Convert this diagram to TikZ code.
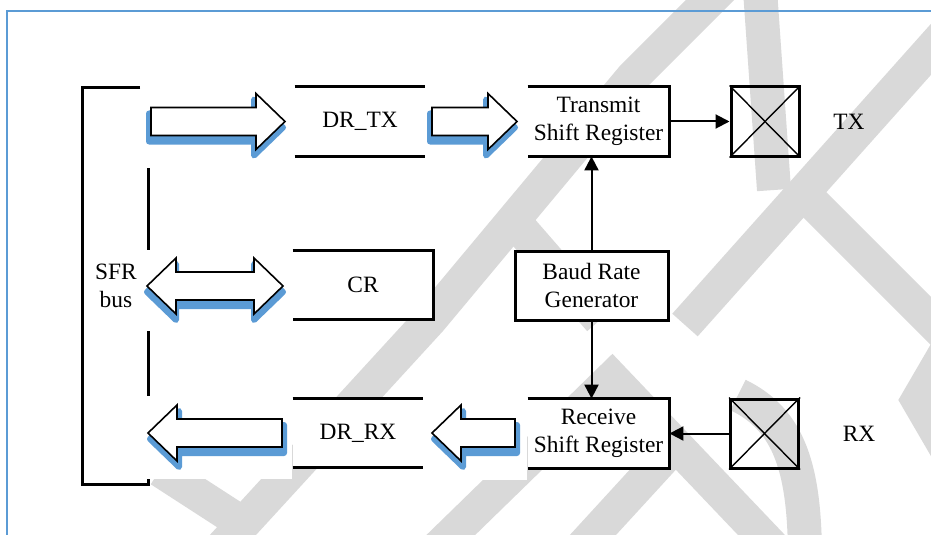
\documentclass[tikz,border=0pt]{standalone}
\usepackage{fontspec}
\setmainfont{Liberation Serif}
\usetikzlibrary{arrows.meta,positioning}

\definecolor{arrowblue}{HTML}{5B9BD5}
\definecolor{framebl}{HTML}{5B9BD5}
\definecolor{wmgray}{gray}{0.85}

\begin{document}
\begin{tikzpicture}[x=0.5pt,y=-0.5pt,
	font=\fontsize{11.7}{14}\selectfont,
	box/.style={fill=white,inner sep=0pt,align=center},
	regbox/.style={box,minimum width=70.5pt,minimum height=34.5pt},
	datbox/.style={box,minimum width=65pt,minimum height=34.5pt},
	portbox/.style={draw,line width=1.5pt,minimum width=34pt,minimum height=34.5pt,inner sep=0pt},
	side/.style={line width=1.5pt},
	link/.style={line width=1pt,-{Triangle[length=7pt,width=7pt]}},
	wm/.style={wmgray,line width=17pt},
	arrow shadow/.style={fill=arrowblue,draw=arrowblue,line width=3pt,line join=round,shift={(-2,6)}},
	arrow face/.style={fill=white,draw=black,line width=0.8pt},
	fatarrow/.pic={
		\path[arrow shadow] (0,-14) -- (#1,-14) -- (#1,-28) -- ++(29,28) -- (#1,28) -- (#1,14) -- (0,14) -- cycle;
		\path[arrow face] (0,-14) -- (#1,-14) -- (#1,-28) -- ++(29,28) -- (#1,28) -- (#1,14) -- (0,14) -- cycle;
	},
	dblarrow/.pic={
		\path[arrow shadow,shift={(2,0)}] (0,0) -- (29,-28) -- (29,-14) -- ++(#1,0) -- ++(0,-14) -- ++(29,28) -- ++(-29,28) -- ++(0,-14) -- (29,14) -- (29,28) -- cycle;
		\path[arrow face] (0,0) -- (29,-28) -- (29,-14) -- ++(#1,0) -- ++(0,-14) -- ++(29,28) -- ++(-29,28) -- ++(0,-14) -- (29,14) -- (29,28) -- cycle;
	}]
	\useasboundingbox (0,0) rectangle (931,535);
	\clip (0,0) rectangle (931,535);
	\fill[white] (0,0) rectangle (931,535);
	% watermark
		\draw[wm] (722,-12) -- (632,78) -- (430,320) -- (210,560);
		\draw[wm] (245,525) -- (160,470);
		\draw[wm] (513,220) -- (600,320);
		\draw[wm] (760,-10) -- (774,190);
		\draw[wm] (975,0) -- (685,325);
		\draw[wm] (800,190) -- (945,335);
		\draw[wm] (950,345) -- (918,400) -- (950,455);
		\draw[wm] (420,565) -- (612,378) -- (790,565);
		\draw[wm] (680,440) -- (570,560);
		\draw[wm] (738,395) .. controls (790,420) and (805,470) .. (805,560);
		\draw[framebl,line width=1pt] (7,11) rectangle (940,545);
		\fill[white] (145,394) rectangle (292,479);
		\fill[white] (425,394) rectangle (527,480);
	% boxes
		\node (drtx) at (360,121.5) [datbox] {DR\_TX};
		\node (tsr) at (598.5,121.5) [regbox] {Transmit\\Shift Register};
		\node (txport) at (765,121.5) [portbox] {};
		\node (tx) at (849,122) {TX};
		\node (cr) at (363,285) [box,minimum width=70pt,minimum height=34pt] {CR};
		\node (baud) at (591.5,285.5) [box,draw,line width=1.5pt,minimum width=76.5pt,minimum height=34.5pt] {Baud Rate\\Generator};
		\node (drrx) at (358,433) [datbox] {DR\_RX};
		\node (rsr) at (598.5,433.5) [regbox] {Receive\\Shift Register};
		\node (rxport) at (764.5,433.5) [portbox] {};
		\node (rx) at (859,434) {RX};
		\node (sfr) at (116,286) [align=center] {SFR\\bus};
	% open sides
		\draw[side] (drtx.north west) -- (drtx.north east) (drtx.south west) -- (drtx.south east);
		\draw[side] (drrx.north west) -- (drrx.north east) (drrx.south west) -- (drrx.south east);
		\draw[side] (tsr.north west) -- (tsr.north east) -- (tsr.south east) -- (tsr.south west);
		\draw[side] (rsr.north west) -- (rsr.north east) -- (rsr.south east) -- (rsr.south west);
		\draw[side] (cr.north west) -- (cr.north east) -- (cr.south east) -- (cr.south west);
		\draw[line width=0.7pt] (txport.north west) -- (txport.south east) (txport.north east) -- (txport.south west);
		\draw[line width=0.7pt] (rxport.north west) -- (rxport.south east) (rxport.north east) -- (rxport.south west);
	% bus bracket
		\draw[side] (140,88) -- (82,88) -- (82,484) -- (148,484) -- (148,479);
		\draw[side] (148,168) -- (148,250) (148,331) -- (148,396);
	% block arrows
		\pic at (151,121.5) {fatarrow=105};
		\pic at (432,121.5) {fatarrow=56};
		\pic at (147,286) {dblarrow=78};
		\pic[xscale=-1] at (282,433) {fatarrow=105};
		\pic[xscale=-1] at (515,433) {fatarrow=54};
	% links
		\draw[link] (tsr) -- (txport);
		\draw[link] (baud.north) -- (baud.north |- tsr.south);
		\draw[link] (baud.south) -- (baud.south |- rsr.north);
		\draw[link] (rxport) -- (rsr);
\end{tikzpicture}
\end{document}
